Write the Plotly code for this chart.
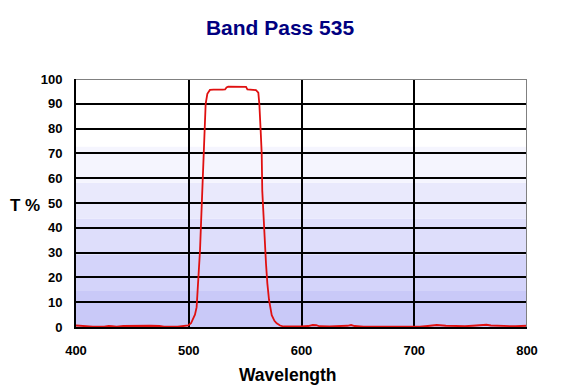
import plotly.graph_objects as go

# ---- data ----
wavelength = [400, 403, 406, 409, 415, 425, 429, 432, 436, 442, 450, 458, 466, 474, 478, 490, 497, 499.5,
              502, 504, 505.5, 507, 508.5, 510, 511, 512, 513, 514, 515, 516.5, 518.8, 522, 526, 530,
              532.2, 533.5, 535, 540, 545, 550.8, 552, 556, 559.6, 561.7, 562.6, 563.8, 564.7, 565.2,
              566.4, 567.6, 568.5, 569.7, 571.2, 573.6, 576, 578, 581, 584, 590, 600, 606, 610, 613,
              616, 625, 635, 641, 644, 647, 655, 680, 705, 712, 720, 728, 735, 745, 752, 760, 764, 768,
              775, 782, 790, 800]
transmission = [0.6, 0.5, 0.4, 0.1, 0.1, 0.1, 0.4, 0.3, 0.1, 0.4, 0.5, 0.6, 0.5, 0.4, 0.1, 0.1, 0.3, 0.6,
                1.5, 3.5, 5, 8, 17.6, 31, 43, 55, 70, 81, 90, 94, 95.6, 95.7, 95.6, 95.7,
                95.8, 96.6, 96.9, 96.9, 96.8, 96.8, 95.8, 95.7, 95.5, 94.5, 90, 79, 70, 55,
                43, 31, 25.7, 17.6, 10.9, 4.8, 2.5, 1.5, 0.6, 0.2, 0.1, 0.2, 0.4, 0.8, 0.7,
                0.3, 0.2, 0.2, 0.5, 0.8, 0.4, 0.1, 0.05, 0.1, 0.4, 0.8, 0.5, 0.3, 0.3, 0.5, 0.6, 0.9, 0.6,
                0.5, 0.4, 0.3, 0.5]
x_ticks = [400, 500, 600, 700, 800]
y_ticks = [0, 10, 20, 30, 40, 50, 60, 70, 80, 90, 100]
band_edges = [0, 14.5, 29.1, 43.6, 58.2, 72.7]
band_colors = ["#c9c9f8", "#d4d4fa", "#dedefb", "#e9e9fc", "#f5f5fe"]

fig = go.Figure()
fig.add_trace(go.Scatter(x=wavelength, y=transmission, mode="lines",
                         line=dict(color="#e01010", width=1.8), showlegend=False))

shapes = []
for i, c in enumerate(band_colors):
    shapes.append(dict(type="rect", xref="x", yref="y", x0=400, x1=800,
                       y0=band_edges[i], y1=band_edges[i + 1],
                       fillcolor=c, line=dict(width=0), layer="below"))
shapes.append(dict(type="line", xref="x", yref="y", x0=400, x1=800, y0=100, y1=100,
                   line=dict(color="#808080", width=2), layer="above"))
shapes.append(dict(type="line", xref="x", yref="y", x0=800, x1=800, y0=0, y1=100,
                   line=dict(color="#808080", width=2), layer="above"))

font_family = "Liberation Sans, Arial, sans-serif"
fig.update_layout(
    width=554, height=382,
    margin=dict(l=68, r=35, t=71, b=63, autoexpand=False),
    paper_bgcolor="white", plot_bgcolor="white",
    shapes=shapes,
    title=dict(text="<b>Band Pass 535</b>", x=0.491, xanchor="center", y=0.9476, yanchor="middle",
               font=dict(family=font_family, size=21, color="#000080")),
    xaxis=dict(range=[400, 800], tickvals=x_ticks, ticktext=["<b>%d</b>" % v for v in x_ticks],
               showgrid=True, gridcolor="black", gridwidth=2, zeroline=False, automargin=False,
               showline=True, linecolor="black", linewidth=2, ticks="", ticklen=0,
               ticklabelstandoff=10,
               tickfont=dict(family=font_family, size=13, color="black")),
    yaxis=dict(range=[0, 100], tickvals=y_ticks, ticktext=["<b>%d</b>" % v for v in y_ticks],
               showgrid=True, gridcolor="black", gridwidth=2, zeroline=False, automargin=False,
               showline=True, linecolor="black", linewidth=2, ticks="outside", ticklen=9,
               tickcolor="rgba(0,0,0,0)",
               tickfont=dict(family=font_family, size=13, color="black")),
    annotations=[
        dict(text="<b>T %</b>", xref="paper", yref="paper", x=-0.151, y=0.49,
             xanchor="left", yanchor="middle", showarrow=False,
             font=dict(family=font_family, size=17, color="black")),
        dict(text="<b>Wavelength</b>", xref="paper", yref="paper", x=0.471, y=-0.194,
             xanchor="center", yanchor="middle", showarrow=False,
             font=dict(family=font_family, size=17.5, color="black")),
    ],
)

fig.write_html("out.html")
